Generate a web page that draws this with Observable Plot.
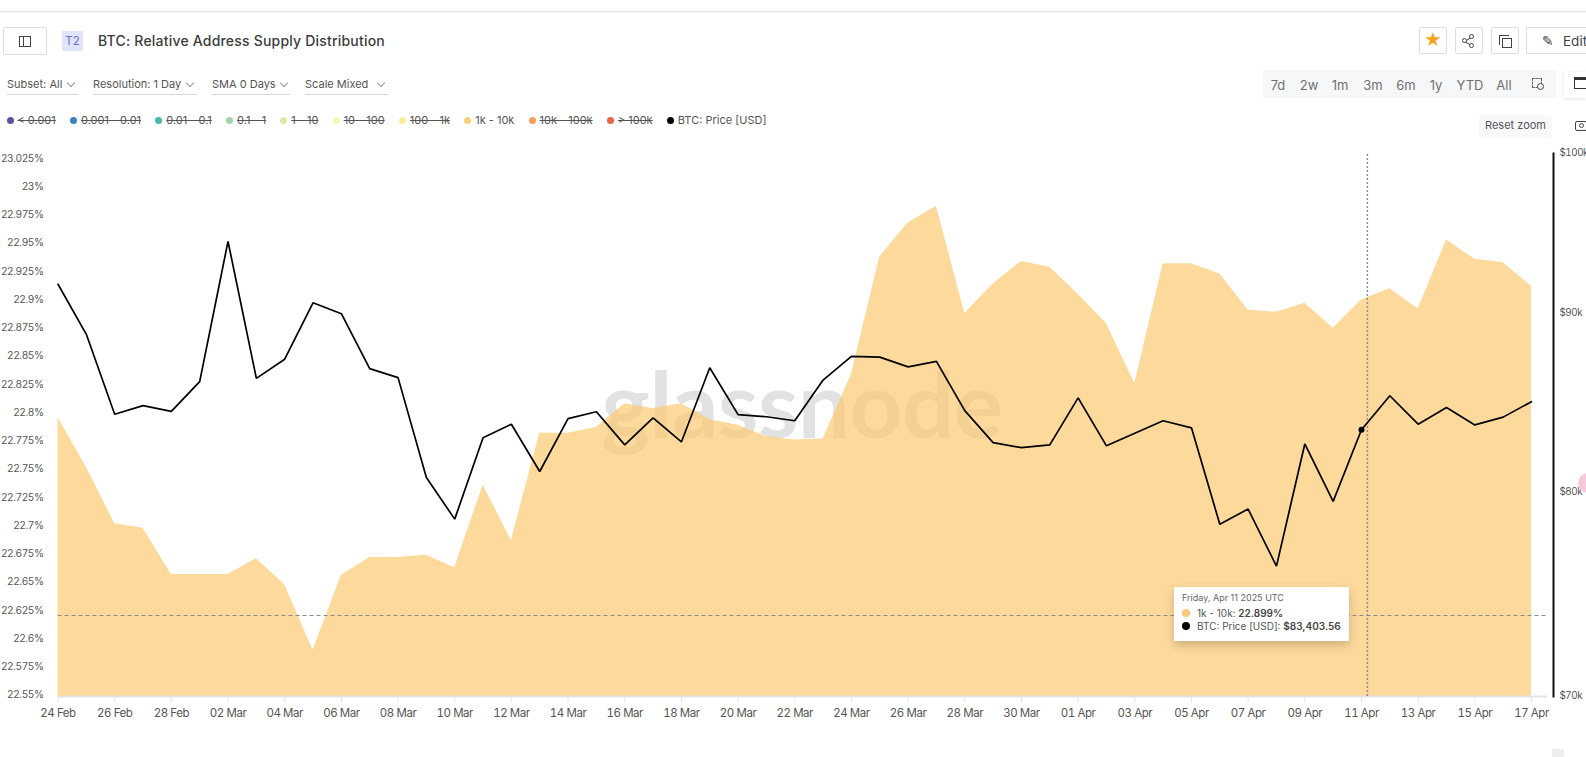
<!DOCTYPE html>
<html>
<head>
<meta charset="utf-8">
<script src="https://cdn.jsdelivr.net/npm/d3@7"></script>
<script src="https://cdn.jsdelivr.net/npm/@observablehq/plot@0.6"></script>
<style>
html,body{margin:0;padding:0;background:#fff;width:1586px;height:757px;overflow:hidden;font-family:Inter,sans-serif;color:#444}
.abs{position:absolute;box-sizing:border-box}
.btn{border:1px solid #dedede;border-radius:2px;background:#fff}
.dd{font-size:11px;color:#555;line-height:16px;border-bottom:1px solid #d8d8d8;height:19px;white-space:nowrap}
.chev{position:absolute;width:5px;height:5px;border-right:1px solid #999;border-bottom:1px solid #999;transform:rotate(45deg);top:4px}
.tb{font-size:13px;color:#707070;transform:translateX(-50%);top:77px;line-height:16px}
#legend{display:flex;left:6.5px;top:113px;font-size:11px;line-height:15px;color:#555;white-space:nowrap;gap:14.2px}
#legend .it{display:flex;align-items:center;gap:4px}
#legend i{display:block;width:7px;height:7px;border-radius:50%}
.off{text-decoration:line-through}
#tip{left:1174px;top:587px;width:175px;height:54px;background:#fff;box-shadow:0 4px 10px rgba(90,70,30,.28);border-radius:1px;font-size:10px;line-height:12px;color:#555;z-index:5}
#tip div{position:absolute;white-space:nowrap}
#tip b{color:#444;font-weight:600}
#tip i{position:absolute;width:8px;height:8px;border-radius:50%}
</style>
</head>
<body>
<div class="abs" style="left:0;top:11px;width:1586px;height:1px;background:#e4e4e4"></div>

<div class="abs btn" style="left:3px;top:27px;width:44px;height:28px"></div>
<div class="abs" style="left:19px;top:36px;width:12px;height:11px;border:1px solid #444"></div>
<div class="abs" style="left:23px;top:36px;width:1px;height:11px;background:#444"></div>
<div class="abs" style="left:62px;top:31px;width:21px;height:20px;background:#e1e4fb;color:#6873cc;font-size:11.5px;line-height:20px;text-align:center">T2</div>
<div class="abs" id="title" style="left:98px;top:31px;font-size:14px;font-weight:500;letter-spacing:.2px;line-height:20px;color:#3c3c3c;white-space:nowrap"></div>

<div class="abs btn" style="left:1419px;top:27px;width:28px;height:27px;color:#f7a416;font-size:17px;line-height:25px;text-align:center">★</div>
<div class="abs btn" style="left:1455px;top:27px;width:28px;height:27px"></div>
<div class="abs" style="left:1464px;top:38.5px;width:8px;height:1px;background:#444;transform:rotate(-32deg)"></div>
<div class="abs" style="left:1464px;top:42.5px;width:8px;height:1px;background:#444;transform:rotate(32deg)"></div>
<div class="abs" style="left:1462px;top:38px;width:5px;height:5px;border:1px solid #444;border-radius:50%;background:#fff"></div>
<div class="abs" style="left:1469px;top:34px;width:5px;height:5px;border:1px solid #444;border-radius:50%;background:#fff"></div>
<div class="abs" style="left:1469px;top:43px;width:5px;height:5px;border:1px solid #444;border-radius:50%;background:#fff"></div>
<div class="abs btn" style="left:1491px;top:27px;width:28px;height:27px"></div>
<div class="abs" style="left:1499px;top:35px;width:10px;height:10px;border-left:1px solid #444;border-top:1px solid #444"></div>
<div class="abs" style="left:1502px;top:38px;width:10px;height:10px;border:1px solid #444"></div>
<div class="abs btn" style="left:1526px;top:27px;width:80px;height:27px;border-right:none"></div>
<div class="abs" style="left:1542px;top:31px;font-size:14px;line-height:20px;color:#444;white-space:nowrap;font-family:'DejaVu Sans'">✎</div>
<div class="abs" style="left:1563px;top:31px;font-size:13.5px;line-height:20px;color:#444">Edit</div>

<div id="controls"></div>
<div class="abs" style="left:1263px;top:70px;width:293px;height:28px;background:#f6f7f8"></div>
<div id="ranges"></div>
<div class="abs" style="left:1532px;top:78px;width:10px;height:10px;border:1px dashed #666"></div>
<div class="abs" style="left:1537px;top:83px;width:7px;height:7px;border:1px solid #444;border-radius:50%;background:#f6f7f8"></div>
<div class="abs" style="left:1564px;top:72px;width:22px;height:26px;background:#fff;box-shadow:0 1px 4px rgba(0,0,0,.12)"></div>
<div class="abs" style="left:1574px;top:77px;width:14px;height:12px;border:1px solid #333;border-top:3px solid #333"></div>
<div class="abs" style="left:1479px;top:115px;width:73px;height:23px;background:#f7f8fa;border-radius:3px;font-size:11px;color:#555;line-height:21px;text-align:center">Reset zoom</div>
<div class="abs" style="left:1575px;top:121px;width:12px;height:10px;border:1px solid #444;border-radius:2px"></div>
<div class="abs" style="left:1579px;top:123px;width:5px;height:5px;border:1px solid #444;border-radius:50%"></div>

<div class="abs" id="legend"></div>
<div class="abs" id="chart" style="left:0;top:140px"></div>

<div class="abs" id="tip">
  <div id="tipDate" style="left:8px;top:5px;font-size:9px;color:#666"></div>
  <i style="left:8px;top:22px;background:#fdc97b"></i>
  <div id="tipA" style="left:23px;top:20px"></div>
  <i style="left:8px;top:35px;background:#000"></i>
  <div id="tipB" style="left:23px;top:33px"></div>
</div>
<div class="abs" style="left:1578px;top:473px;width:20px;height:20px;border-radius:50%;background:#f7c9dc"></div>
<div class="abs" style="left:1552px;top:749px;width:12px;height:8px;background:#eeeef0"></div>

<script>
const titleText = "BTC: Relative Address Supply Distribution";
const controlLabels = ["Subset: All", "Resolution: 1 Day", "SMA 0 Days", "Scale Mixed"];
const rangeLabels = ["7d", "2w", "1m", "3m", "6m", "1y", "YTD", "All"];
const legendLabels = ["< 0.001", "0.001 - 0.01", "0.01 - 0.1", "0.1 - 1", "1 - 10", "10 - 100", "100 - 1k", "1k - 10k", "10k - 100k", "> 100k", "BTC: Price [USD]"];
const legendActive = ["1k - 10k", "BTC: Price [USD]"];
const legendColors = ["#5f50a0", "#3a84c0", "#45b8a8", "#a0d4a4", "#d6eca0", "#f4f9b4", "#f8f09a", "#fcd07e", "#f99f58", "#e8654a", "#000000"];

const startDay = "2025-02-24";
const endDay = "2025-04-18";
const supplyPct = [
  22.797, 22.753, 22.703, 22.699, 22.658, 22.658, 22.658, 22.672, 22.649, 22.591,
  22.657, 22.673, 22.673, 22.675, 22.664, 22.737, 22.688, 22.783, 22.783, 22.788,
  22.809, 22.805, 22.809, 22.795, 22.790, 22.780, 22.777, 22.778, 22.835, 22.939,
  22.969, 22.984, 22.889, 22.915, 22.935, 22.930, 22.906, 22.880, 22.827, 22.933,
  22.933, 22.924, 22.892, 22.890, 22.898, 22.876, 22.901, 22.911, 22.893, 22.954,
  22.937, 22.934, 22.913
];
const btcPrice = [
  91770, 88800, 84260, 84740, 84420, 86080, 94390, 86270, 87360, 90660,
  90010, 86820, 86310, 80830, 78650, 82970, 83710, 81150, 84020, 84400,
  82580, 84060, 82740, 86870, 84240, 84120, 83900, 86170, 87520, 87480,
  86920, 87240, 84460, 82700, 82430, 82580, 85170, 82530, 83210, 83900,
  83510, 78390, 79170, 76260, 82630, 79570, 83403.56, 85290, 83710, 84630,
  83670, 84100, 84960
];
const tipPct = "22.899%";
const tipPrice = "$83,403.56";
const leftTicks = [22.55, 22.575, 22.6, 22.625, 22.65, 22.675, 22.7, 22.725, 22.75, 22.775, 22.8, 22.825, 22.85, 22.875, 22.9, 22.925, 22.95, 22.975, 23, 23.025];
const priceTicks = [70000, 80000, 90000, 100000];
const yMin = 22.55, yMax = 23.0306;
const cursorPct = 22.6217;
const cursorDay = "2025-04-11T05:00Z";
const hoverDay = "2025-04-11";
const axisEndDay = "2025-04-17T13:30Z";
const watermark = "glassnode";
const watermarkDay = "2025-03-22T06:00Z";
const watermarkPct = 22.805;

const dates = d3.utcDay.range(new Date(startDay), new Date(endDay));
const rows = dates.map((date, i) => ({date, pct: supplyPct[i], price: btcPrice[i]}));
const xTicks = dates.filter((d, i) => i % 2 === 0);
const priceToLeft = d3.scaleLog().domain([70000, 100000]).range([yMin, yMax]);
const hover = rows.filter(d => +d.date === +new Date(hoverDay));
const fmtTick = d3.utcFormat("%d %b");

const plot = Plot.plot({
  width: 1586,
  height: 582,
  marginTop: 13,
  marginBottom: 26,
  marginLeft: 57.5,
  marginRight: 33,
  style: {fontFamily: "Inter, sans-serif", fontSize: "11.5px", letterSpacing: "-0.45px", background: "transparent", overflow: "visible"},
  x: {type: "utc", domain: [dates[0], dates[dates.length - 1]], range: [57.5, 1531], label: null},
  y: {domain: [yMin, yMax], label: null},
  marks: [
    Plot.text([watermark], {x: () => new Date(watermarkDay), y: () => watermarkPct, text: d => d, fontSize: 92, fontWeight: 700, fontFamily: "Lato, sans-serif", fill: "#e2e2e2"}),
    Plot.areaY(rows, {x: "date", y1: () => yMin, y2: "pct", fill: "#fcc970", fillOpacity: 0.7}),
    Plot.ruleY([yMin], {x1: () => dates[0], x2: () => new Date(axisEndDay), stroke: "#e3e3e3", strokeWidth: 2}),
    Plot.ruleY([cursorPct], {x1: () => dates[0], x2: () => new Date(axisEndDay), stroke: "#8a8a8a", strokeDasharray: "4,3", strokeWidth: 1.2}),
    Plot.ruleX([new Date(cursorDay)], {y1: () => yMin, y2: () => yMax, stroke: "#8c8c8c", strokeDasharray: "2,2", strokeWidth: 1.5}),
    Plot.line(rows, {x: "date", y: d => priceToLeft(d.price), stroke: "#000", strokeWidth: 1.7, strokeLinejoin: "miter"}),
    Plot.dot(hover, {x: "date", y: d => priceToLeft(d.price), r: 3, fill: "#000"}),
    Plot.frame({anchor: "right", stroke: "#111", strokeWidth: 2}),
    Plot.axisX(xTicks, {tickFormat: fmtTick, tickSize: 7, tickPadding: 5, stroke: "#e6e6e6", fill: "#555", label: null}),
    Plot.axisY(leftTicks, {anchor: "left", tickSize: 0, tickPadding: 14.5, fontSize: 10.2, dy: -1.5, tickFormat: v => +v.toFixed(3) + "%", fill: "#555", label: null}),
    Plot.axisY(priceTicks.map(p => priceToLeft(p)), {anchor: "right", tickSize: 0, tickPadding: 6, fontSize: 9.8, dy: -1, tickFormat: v => "$" + Math.round(priceToLeft.invert(v) / 1000) + "k", fill: "#555", label: null})
  ]
});
document.getElementById("chart").appendChild(plot);

document.getElementById("title").textContent = titleText;

const ctrlGeom = [[7, 71, 61], [93, 104, 94], [212, 78, 69], [305, 83, 73]];
document.getElementById("controls").innerHTML = controlLabels.map((t, i) => {
  const [l, w, c] = ctrlGeom[i];
  return `<div class="abs dd" style="left:${l}px;top:76px;width:${w}px">${t}<span class="chev" style="left:${c}px"></span></div>`;
}).join("");

const rangeX = [1278, 1309, 1340, 1373, 1406, 1436, 1470, 1504];
document.getElementById("ranges").innerHTML = rangeLabels.map((t, i) =>
  `<div class="abs tb" style="left:${rangeX[i]}px">${t}</div>`).join("");

const legend = document.getElementById("legend");
legendLabels.forEach((t, i) => {
  const it = document.createElement("div"); it.className = "it";
  const dot = document.createElement("i"); dot.style.background = legendColors[i];
  const s = document.createElement("span"); s.textContent = t;
  if (!legendActive.includes(t)) s.className = "off";
  it.append(dot, s); legend.append(it);
});

const h = hover[0];
document.getElementById("tipDate").textContent = d3.utcFormat("%A, %b %d %Y")(h.date) + " UTC";
document.getElementById("tipA").innerHTML = `1k - 10k: <b>${tipPct}</b>`;
document.getElementById("tipB").innerHTML = `BTC: Price [USD]: <b>${tipPrice}</b>`;
</script>
</body>
</html>
